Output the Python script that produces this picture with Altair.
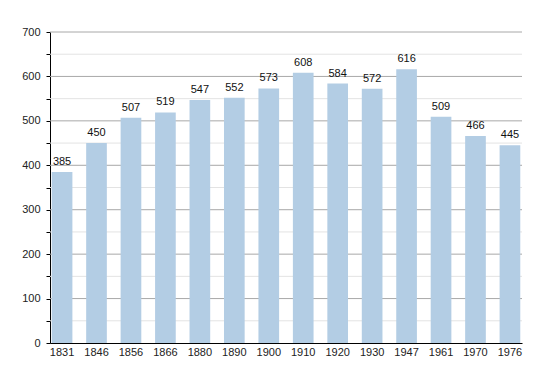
import altair as alt
import pandas as pd

years = ["1831", "1846", "1856", "1866", "1880", "1890", "1900", "1910", "1920", "1930", "1947", "1961", "1970", "1976"]
population = [385, 450, 507, 519, 547, 552, 573, 608, 584, 572, 616, 509, 466, 445]
major_grid = [100, 200, 300, 400, 500, 600, 700]
minor_grid = [50, 150, 250, 350, 450, 550, 650]

df = pd.DataFrame({"year": years, "pop": population})
major = pd.DataFrame({"v": major_grid})
minor = pd.DataFrame({"v": minor_grid})

yscale = alt.Scale(domain=[0, 700], nice=False)
xscale = alt.Scale(paddingInner=0.4, paddingOuter=0.05)
yaxis = alt.Axis(title=None, values=list(range(0, 701, 50)),
                 labelExpr="datum.value % 100 == 0 ? datum.label : ''",
                 grid=False, domainColor="black", tickColor="black", tickSize=4,
                 labelColor="#222", labelFontSize=11, labelFont="Liberation Sans",
                 labelPadding=6)

minor_rules = alt.Chart(minor).mark_rule(color="#e3e3e3", strokeWidth=1).encode(
    y=alt.Y("v:Q", scale=yscale, axis=yaxis)
)
major_rules = alt.Chart(major).mark_rule(color="#a8a8a8", strokeWidth=1).encode(
    y=alt.Y("v:Q", scale=yscale, axis=yaxis)
)

bars = alt.Chart(df).mark_bar(color="#b3cde4").encode(
    x=alt.X("year:N", scale=xscale, sort=None,
            axis=alt.Axis(title=None, labelAngle=0, ticks=False, domainColor="black",
                          labelColor="#222", labelFontSize=11, labelFont="Liberation Sans",
                          labelPadding=3)),
    y=alt.Y("pop:Q", scale=yscale, axis=yaxis),
)

text = alt.Chart(df).mark_text(dy=-10, fontSize=11, font="Liberation Sans", color="#111").encode(
    x=alt.X("year:N", scale=xscale, sort=None),
    y=alt.Y("pop:Q", scale=yscale, axis=yaxis),
    text="pop:Q",
)

chart = alt.layer(minor_rules, major_rules, bars, text).properties(
    width=472, height=311,
    autosize=alt.AutoSizeParams(type="none"),
    padding={"left": 42, "top": 24, "right": 20, "bottom": 30},
).configure_view(stroke=None).configure_axis(domainWidth=1)

chart.save("out.html", embed_options={"renderer": "svg", "actions": False})
